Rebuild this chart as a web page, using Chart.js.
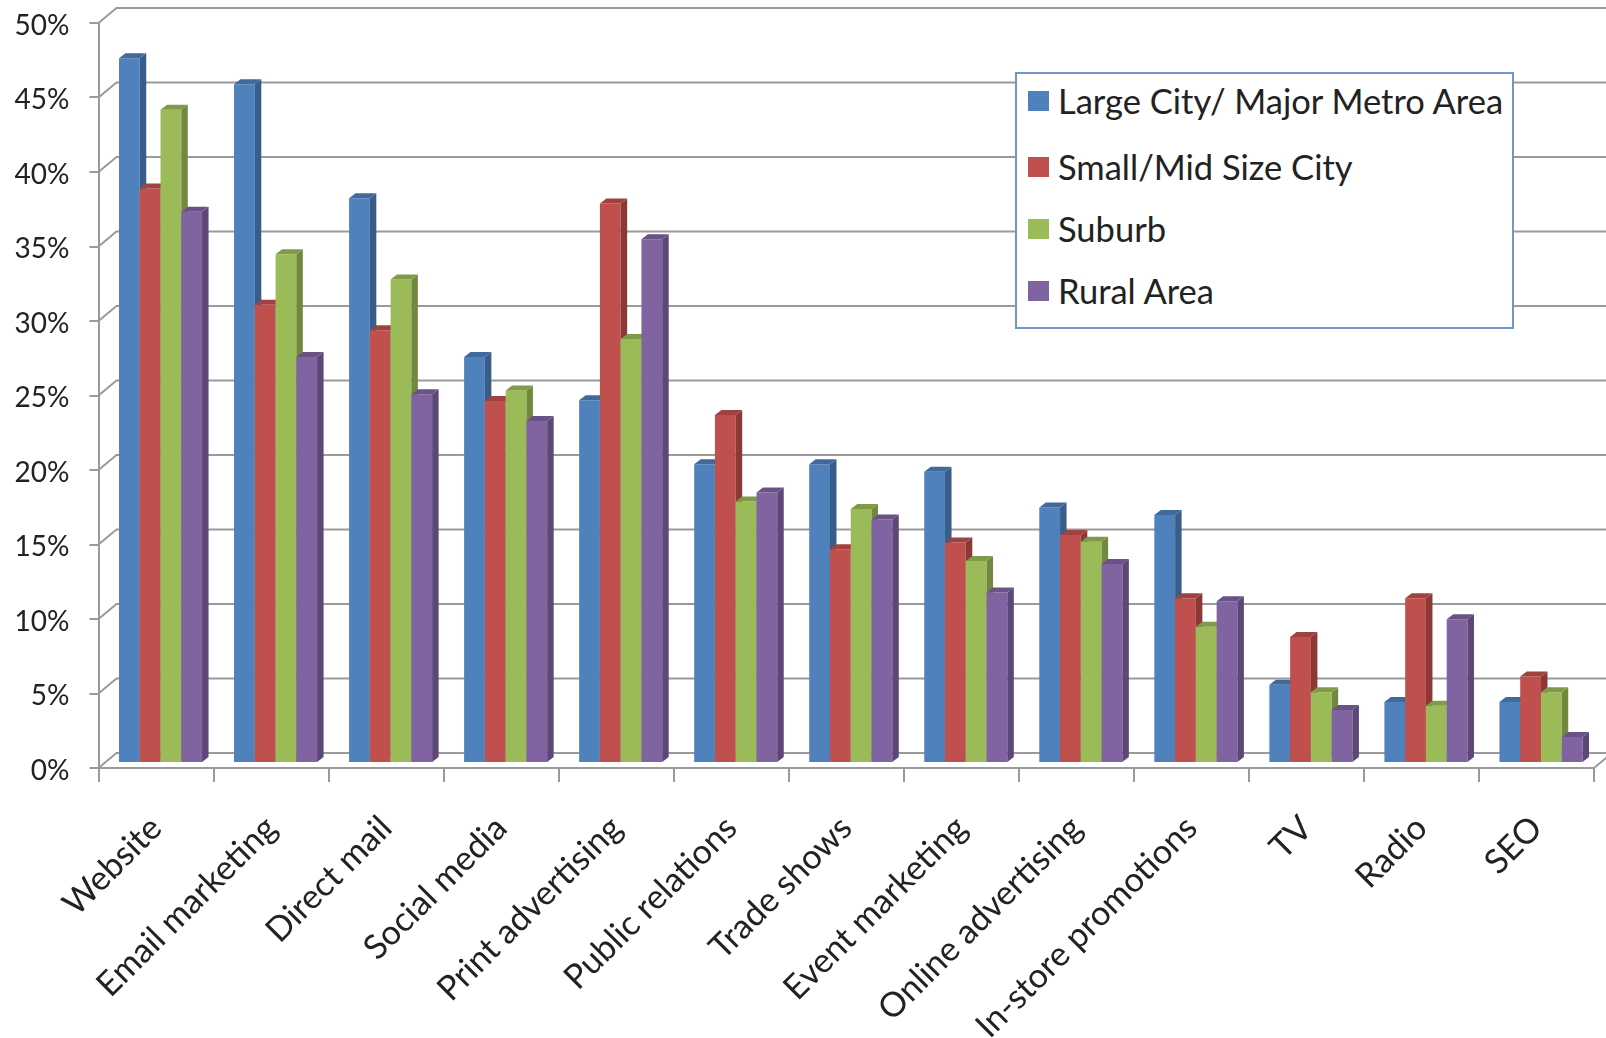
<!DOCTYPE html>
<html>
<head>
<meta charset="utf-8">
<title>Marketing channels by area</title>
<script src="https://cdn.jsdelivr.net/npm/chart.js@4"></script>
<style>
  html, body { margin: 0; background: #fff; overflow: hidden; }
  #wrap { position: relative; width: 1606px; height: 1038px; filter: blur(0.6px); }
  #legend { position: absolute; left: 1015px; top: 72px; width: 495px; height: 253px; background: #fff;
            border: 2px solid #6f97c8; font: 34.5px Lato, sans-serif; color: #222; }
  #legend div { position: absolute; left: 43px; white-space: nowrap; line-height: 40px; }
  #legend i { position: absolute; left: -30px; top: 10px; width: 21px; height: 20px; }
</style>
</head>
<body>
<div id="wrap">
  <canvas id="grafico" width="1606" height="1038"></canvas>
  <div id="legend"></div>
</div>
<script>
const categorias = ['Website', 'Email marketing', 'Direct mail', 'Social media', 'Print advertising',
  'Public relations', 'Trade shows', 'Event marketing', 'Online advertising', 'In-store promotions',
  'TV', 'Radio', 'SEO'];
const nombres = ['Large City/ Major Metro Area', 'Small/Mid Size City', 'Suburb', 'Rural Area'];
const grandes = [47.3, 45.55, 37.9, 27.25, 24.35, 20.05, 20.05, 19.55, 17.15, 16.65, 5.25, 4.1, 4.1];
const medianas = [38.55, 30.75, 29.05, 24.3, 37.55, 23.35, 14.35, 14.8, 15.3, 11.05, 8.45, 11.05, 5.8];
const suburbios = [43.85, 34.15, 32.45, 25.0, 28.45, 17.55, 17.05, 13.55, 14.85, 9.15, 4.75, 3.85, 4.75];
const rurales = [37.0, 27.25, 24.75, 22.95, 35.15, 18.15, 16.35, 11.45, 13.35, 10.85, 3.55, 9.65, 1.75];
const frente = ['#4f81bd', '#c0504d', '#9bbb59', '#8064a2'];
const lado = ['#385d8a', '#8c3836', '#71893f', '#5c4776'];
const tapa = ['#41699b', '#a04340', '#7f9b48', '#6a5287'];
const series = [grandes, medianas, suburbios, rurales];

const gris = '#9a9a9a';
const fondoX = 18, fondoY = -15; // wall depth
const barraX = 4.5, barraY = -5; // bars stand a bit behind the front edge
const prof = 6.5, profY = -5;

const pared = {
  id: 'pared',
  beforeDatasetsDraw(chart) {
    const { ctx, scales: { x, y } } = chart;
    ctx.save();
    ctx.strokeStyle = gris;
    ctx.lineWidth = 2;
    y.ticks.forEach(t => {
      const py = y.getPixelForValue(t.value);
      ctx.beginPath();
      ctx.moveTo(x.left, py);
      ctx.lineTo(x.left + fondoX, py + fondoY);
      ctx.lineTo(chart.width, py + fondoY);
      ctx.stroke();
    });
    const py0 = y.getPixelForValue(0);
    ctx.beginPath();
    ctx.moveTo(x.right, py0);
    ctx.lineTo(x.right + fondoX, py0 + fondoY);
    ctx.stroke();
    ctx.restore();
  },
  // chart.js paints the first dataset last, here it has to go the other way round
  beforeDatasetDraw() {
    return false;
  },
  afterDatasetsDraw(chart) {
    const { ctx } = chart;
    ctx.save();
    ctx.translate(barraX, barraY);
    series.forEach((s, i) => {
      const meta = chart.getDatasetMeta(i);
      meta.controller.draw();
      meta.data.forEach(b => {
        const r = b.x + b.width / 2, l = b.x - b.width / 2;
        ctx.fillStyle = lado[i];
        ctx.beginPath();
        ctx.moveTo(r, b.base);
        ctx.lineTo(r + prof, b.base + profY);
        ctx.lineTo(r + prof, b.y + profY);
        ctx.lineTo(r, b.y);
        ctx.closePath();
        ctx.fill();
        ctx.fillStyle = tapa[i];
        ctx.beginPath();
        ctx.moveTo(l, b.y);
        ctx.lineTo(l + prof, b.y + profY);
        ctx.lineTo(r + prof, b.y + profY);
        ctx.lineTo(r, b.y);
        ctx.closePath();
        ctx.fill();
      });
    });
    ctx.restore();
  }
};

new Chart(document.getElementById('grafico'), {
  type: 'bar',
  plugins: [pared],
  data: {
    labels: categorias,
    datasets: series.map((s, i) => ({
      label: nombres[i],
      data: s,
      backgroundColor: frente[i],
      clip: false
    }))
  },
  options: {
    responsive: false,
    animation: false,
    devicePixelRatio: 1,
    layout: { padding: { top: 23, right: 12, left: 0, bottom: 0 } },
    categoryPercentage: 0.722,
    barPercentage: 1,
    plugins: { legend: { display: false }, tooltip: { enabled: false } },
    scales: {
      x: {
        afterFit: s => { s.height = 270; },
        grid: { drawOnChartArea: false, tickLength: 14, color: gris, lineWidth: 2, offset: true },
        border: { color: gris, width: 2 },
        ticks: {
          autoSkip: false,
          minRotation: 45,
          maxRotation: 45,
          padding: 26,
          color: '#222',
          font: { family: 'Lato', size: 34 }
        }
      },
      y: {
        min: 0,
        max: 50,
        afterFit: s => { s.width = 98.5; s.paddingTop = 0; s.paddingBottom = 0; },
        grid: { drawOnChartArea: false, tickLength: 9, color: gris, lineWidth: 2 },
        border: { color: gris, width: 2 },
        ticks: {
          stepSize: 5,
          padding: 20,
          labelOffset: 2.5,
          color: '#222',
          font: { family: 'Lato', size: 28 },
          callback: v => v + '%'
        }
      }
    }
  }
});

const legend = document.getElementById('legend');
const filas = [7, 73, 135, 197];
nombres.forEach((n, i) => {
  legend.innerHTML += `<div style="top:${filas[i]}px;left:41px"><i style="background:${frente[i]}"></i>${n}</div>`;
});
</script>
</body>
</html>
